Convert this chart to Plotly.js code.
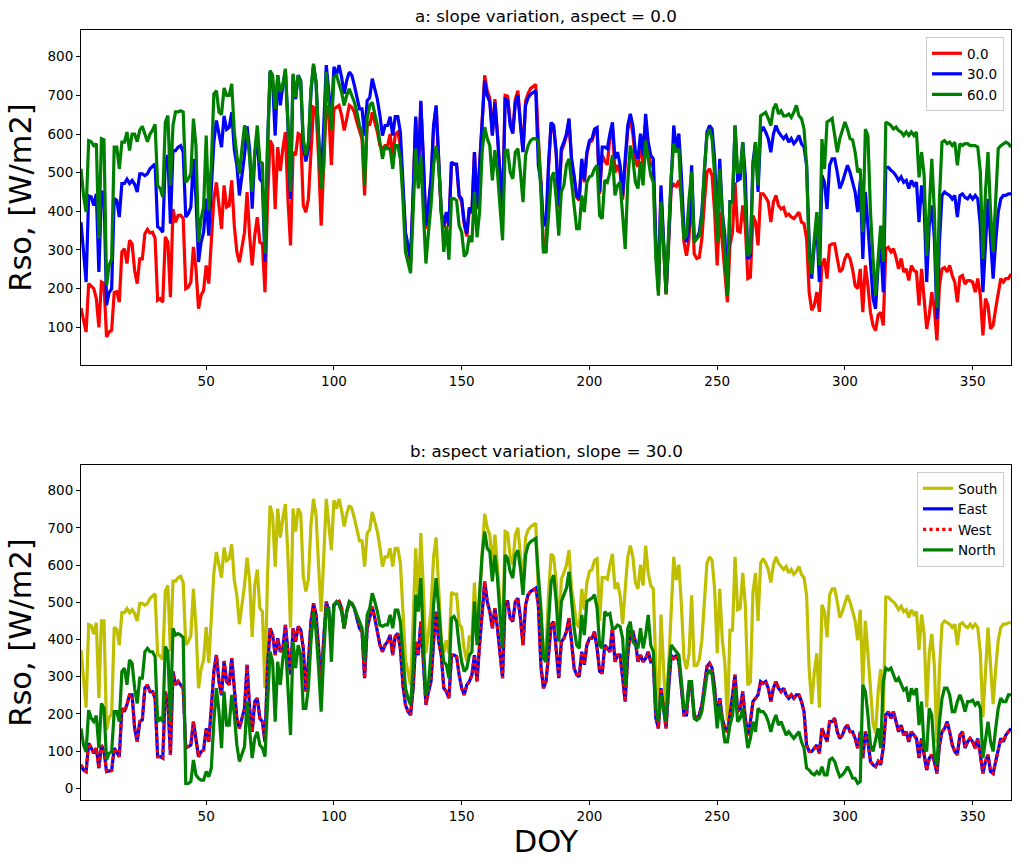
<!DOCTYPE html>
<html><head><meta charset="utf-8">
<script src="https://cdn.plot.ly/plotly-3.0.1.min.js"></script>
<style>html,body{margin:0;padding:0;background:#fff}</style>
</head><body><div id="chart" style="width:1020px;height:868px"></div>
<script>
// Day of year 1..365 (x axis index)
const doy = Array.from({length: 365}, (_, i) => i + 1);

// a: slope variation, aspect = 0.0
const slope0 = [
150,122,88,213,205,200,174,100,217,213, 75,88,92,190,192,165,295,303,265,325,
316,247,213,277,277,342,353,344,346,330, 170,174,165,334,320,178,406,372,389,390,
381,200,204,217,308,251,148,183,196,260, 213,330,432,475,415,355,467,411,415,480,
363,295,268,312,346,450,337,260,337,385, 320,316,191,424,583,570,406,566,505,562,
605,432,312,553,545,601,597,415,398,432, 553,669,665,536,363,527,674,650,520,665,
669,674,648,609,639,674,669,656,630,605, 587,441,630,622,656,630,605,570,562,570,
570,600,536,600,605,570,470,340,305,268, 440,640,490,680,530,355,410,480,615,668,
530,392,357,395,360,527,522,520,438,425, 365,335,405,395,553,405,515,650,752,712,
692,600,690,600,500,395,700,698,630,605, 690,712,630,555,685,705,718,724,728,588,
480,300,295,515,625,615,548,410,555,572, 595,635,530,488,436,428,530,475,548,578,
582,605,610,445,545,530,520,590,615,500, 520,500,430,520,610,640,600,530,515,580,
520,630,555,520,515,305,195,450,335,185, 315,460,470,465,480,440,320,285,330,470,
290,278,281,329,424,501,510,493,398,260, 398,320,243,165,312,346,475,349,346,415,
363,226,230,389,372,312,445,445,436,424, 372,424,441,415,406,410,389,393,385,381,
389,398,372,368,329,191,144,157,191,140, 260,278,226,312,316,316,278,243,251,278,
290,278,250,208,200,251,139,260,208,139, 105,92,132,139,105,303,307,295,303,281,
251,278,243,251,221,260,247,243,157,251, 174,96,132,191,148,66,208,251,255,243,
260,234,217,165,230,234,212,221,221,217, 191,226,182,79,174,157,96,105,148,191,
226,217,226,226,238];

const slope30 = [
372,293,217,440,437,415,445,243,450,450, 157,190,200,433,428,385,472,472,483,472,
480,470,450,497,497,492,497,510,518,523, 360,355,346,530,545,368,557,557,566,570,
553,385,394,411,536,433,269,320,346,433, 337,475,579,635,595,566,647,612,617,656,
560,519,441,492,545,620,560,407,545,588, 484,475,269,570,760,734,596,752,674,726,
764,622,432,752,690,752,738,570,529,562, 708,778,734,596,475,620,778,708,640,774,
752,778,747,704,738,760,752,726,690,665, 665,596,686,694,743,717,690,648,596,622,
622,645,596,645,645,605,492,346,312,277, 450,645,492,686,536,363,415,484,622,674,
536,398,363,398,363,527,522,522,441,432, 372,342,410,398,553,410,519,647,738,700,
682,596,682,596,501,398,690,686,622,601, 682,700,622,553,674,694,703,708,712,519,
475,363,370,522,630,622,553,415,562,579, 600,640,536,492,441,432,536,480,553,583,
588,613,617,450,566,566,562,600,630,536, 553,519,441,536,622,652,622,553,536,601,
545,652,579,545,536,320,205,467,346,190, 329,497,622,560,601,492,350,320,363,519,
330,330,346,398,519,605,622,613,536,363, 536,398,337,182,425,425,622,480,484,579,
493,277,285,527,579,450,605,618,605,588, 553,600,622,605,596,588,596,579,588,575,
583,596,575,566,519,320,226,312,363,217, 493,475,406,519,536,536,501,459,475,501,
519,501,475,450,398,480,277,450,363,251, 174,148,260,320,191,514,514,506,501,492,
480,489,475,480,459,480,467,475,372,467, 415,217,363,415,330,122,320,441,450,445,
441,432,441,385,441,445,436,432,441,432, 441,432,363,191,329,432,329,226,320,398,
432,441,441,445,445];

const slope60 = [
510,441,398,583,580,570,575,330,588,585, 208,260,277,566,566,510,579,579,605,557,
600,600,580,610,620,600,580,600,610,625, 467,459,437,630,648,467,622,657,657,660,
657,475,484,497,640,570,320,381,411,596, 402,519,704,712,657,650,719,700,700,730,
605,545,497,562,622,600,540,450,553,622, 529,524,290,562,764,752,665,752,708,726,
769,630,450,756,694,752,734,587,545,579, 717,782,734,587,459,519,760,682,610,747,
752,730,708,674,700,717,700,682,656,622, 605,467,639,674,682,656,622,579,536,570,
562,562,510,570,570,536,433,295,269,240, 398,562,459,545,398,265,346,415,519,570,
519,398,295,363,275,433,433,428,363,346, 283,292,337,320,450,333,398,553,618,588,
570,480,558,501,398,325,558,558,501,484, 553,562,501,424,545,570,583,588,588,579,
450,295,295,381,484,501,433,337,450,467, 520,536,475,398,355,355,441,398,475,489,
493,510,519,389,381,480,475,500,545,441, 467,475,398,303,475,570,536,475,459,529,
467,583,536,493,475,277,182,424,312,186, 346,493,575,553,562,424,329,337,433,501,
320,329,337,381,510,596,613,588,493,320, 510,398,295,182,424,424,622,501,501,579,
424,285,295,510,579,467,647,652,656,640, 622,665,678,652,660,647,647,652,643,656,
674,647,640,613,519,285,238,329,398,260, 587,510,631,635,640,596,553,588,613,631,
613,588,585,553,501,510,346,613,596,398, 277,182,277,363,269,631,627,622,613,618,
609,605,596,605,596,605,596,605,488,553, 493,285,406,536,400,149,433,579,583,575,
579,570,579,519,575,570,575,575,570,570, 570,566,502,277,450,553,398,295,415,562,
570,575,579,575,566];

// b: aspect variation, slope = 30.0
// South (aspect 0, slope 30) is the same curve as "30.0" above
const south = slope30;

const east = [
63,49,45,121,108,94,108,54,116,100, 45,47,48,108,98,85,215,206,225,251,
251,161,125,179,184,269,278,260,260,242, 85,85,81,260,233,90,314,278,287,278,
269,108,112,116,179,125,85,98,103,161, 125,215,314,358,287,250,342,287,278,350,
260,188,161,188,215,332,215,152,233,242, 188,179,125,323,430,412,358,403,367,376,
439,367,305,430,394,435,426,376,260,340, 448,497,466,376,278,403,502,475,394,493,
497,502,484,430,475,497,497,484,457,430, 421,296,430,457,488,457,421,385,367,385,
394,412,358,408,417,376,278,224,206,197, 269,394,358,448,340,224,260,287,394,475,
394,358,269,260,242,358,358,354,305,269, 251,278,287,305,358,287,385,475,556,502,
475,430,484,430,358,296,502,502,457,448, 502,511,457,385,493,520,529,533,538,493,
330,269,287,358,439,448,376,296,394,403, 421,457,394,323,305,300,367,332,385,403,
403,421,376,314,309,385,376,367,430,340, 358,358,296,233,358,421,421,394,340,358,
340,349,367,340,340,188,161,269,215,161, 269,358,349,358,340,278,197,197,278,269,
197,188,197,224,278,327,336,323,269,188, 242,188,161,152,197,251,305,206,215,260,
188,143,179,233,242,251,287,282,287,269, 233,269,287,269,260,269,251,242,251,242,
251,251,233,206,116,99,99,108,116,94, 161,143,125,179,179,188,152,134,143,161,
170,152,152,134,108,152,81,152,125,72, 63,58,72,63,108,197,206,188,206,179,
152,170,143,152,125,152,143,134,81,134, 90,49,81,90,72,40,116,152,161,179,
152,116,99,90,143,152,108,125,134,125, 108,134,90,40,72,90,45,40,72,108,
134,125,143,152,161];

// West lies exactly on East in the picture
const west = east;

const north = [
161,116,98,210,188,179,195,108,228,215, 76,94,98,206,206,179,314,323,278,345,
336,269,228,296,296,367,376,367,367,354, 179,188,179,381,367,179,430,412,416,412,
405,13,13,18,76,36,27,22,22,45, 31,54,179,269,206,108,260,170,170,251,
200,116,72,90,112,233,152,81,134,152, 116,108,85,233,367,340,179,340,278,349,
394,269,143,394,323,385,358,215,215,269, 394,475,421,323,206,358,484,484,340,493,
502,493,475,430,475,502,497,484,466,448, 430,340,466,484,524,502,475,439,435,439,
439,466,430,479,479,448,349,269,242,224, 323,520,475,565,394,251,278,367,493,565,
484,394,340,332,296,457,462,448,385,340, 314,323,358,367,502,385,520,627,690,645,
636,556,627,565,466,376,627,618,582,565, 627,640,591,520,627,654,663,667,672,573,
484,349,340,448,556,573,502,394,502,520, 538,582,511,430,385,376,466,412,502,506,
511,520,484,385,376,475,466,470,430,430, 439,435,403,278,430,448,394,385,376,430,
376,412,466,385,367,215,179,251,215,179, 314,385,376,367,358,287,215,215,287,287,
188,183,188,206,251,305,318,305,242,161, 224,179,125,125,170,197,269,179,188,215,
161,108,134,179,152,215,206,206,197,179, 152,179,197,170,179,161,143,152,143,134,
143,152,125,108,54,49,40,36,45,36, 58,36,36,76,81,72,49,31,36,45,
58,45,27,27,13,18,278,260,197,116, 99,134,161,108,287,323,318,323,305,287,
296,278,264,269,233,269,251,269,170,233, 108,99,215,197,90,63,179,242,269,269,
251,206,206,233,251,233,206,233,233,237, 224,233,215,81,125,179,125,99,161,215,
242,233,233,251,251];

const topNames = ['0.0', '30.0', '60.0'];
const bottomNames = ['South', 'East', 'West', 'North'];
const yTicksTop = [100,200,300,400,500,600,700,800];
const yTicksBottom = [0,100,200,300,400,500,600,700,800];
const xTicks = [50,100,150,200,250,300,350];

const W = 1020, H = 868;
const L = 81, R = 1011;
const font = 'DejaVu Sans, Liberation Sans, sans-serif';
const LW = 3.2;

function tr(y, name, color, xa, ya, leg, dash) {
  return {x: doy, y: y, name: name, type: 'scatter', mode: 'lines',
    line: {color: color, width: LW, dash: dash || 'solid'},
    xaxis: xa, yaxis: ya, legend: leg};
}

const data = [
  tr(slope0, topNames[0], '#ff0000', 'x', 'y', 'legend'),
  tr(slope30, topNames[1], '#0000ff', 'x', 'y', 'legend'),
  tr(slope60, topNames[2], '#008000', 'x', 'y', 'legend'),
  tr(south, bottomNames[0], '#bfbf00', 'x2', 'y2', 'legend2'),
  tr(east, bottomNames[1], '#0000ff', 'x2', 'y2', 'legend2'),
  tr(west, bottomNames[2], '#ff0000', 'x2', 'y2', 'legend2', 'dot'),
  tr(north, bottomNames[3], '#008000', 'x2', 'y2', 'legend2')
];

function xax(anchor, withTitle) {
  const a = {domain: [L / W, R / W], range: [1, 365], anchor: anchor,
    tickmode: 'array', tickvals: xTicks, ticks: 'outside', ticklen: 4, tickwidth: 1,
    tickcolor: '#000', showline: true, mirror: true, linecolor: '#000', linewidth: 1,
    showgrid: false, zeroline: false, tickfont: {family: font, size: 13.5, color: '#000'}};
  if (withTitle) a.title = {text: 'DOY', font: {family: font, size: 30.5, color: '#000'}, standoff: 7};
  return a;
}
function yax(anchor, dom, rng, tv) {
  return {domain: dom, range: rng, anchor: anchor,
    tickmode: 'array', tickvals: tv, ticks: 'outside', ticklen: 4, tickwidth: 1,
    tickcolor: '#000', showline: true, mirror: true, linecolor: '#000', linewidth: 1,
    showgrid: false, zeroline: false, tickfont: {family: font, size: 13.5, color: '#000'},
    title: {text: 'Rso, [W/m2]', font: {family: font, size: 30.5, color: '#000'}, standoff: 6}};
}

const legendBase = {xanchor: 'right', yanchor: 'top', bgcolor: 'rgba(255,255,255,0.85)',
  bordercolor: '#cccccc', borderwidth: 1, font: {family: font, size: 13.5, color: '#000'},
  tracegroupgap: 0};

const layout = {
  width: W, height: H, margin: {l: 0, r: 0, t: 0, b: 0},
  paper_bgcolor: '#fff', plot_bgcolor: '#fff', showlegend: true,
  xaxis: xax('y', false),
  yaxis: yax('x', [(H - 365) / H, (H - 30) / H], [2.5, 869], yTicksTop),
  xaxis2: xax('y2', true),
  yaxis2: yax('x2', [(H - 800) / H, (H - 465) / H], [-31.5, 869], yTicksBottom),
  legend: Object.assign({x: 1004 / W, y: (H - 37) / H}, legendBase),
  legend2: Object.assign({x: 1004 / W, y: (H - 472) / H}, legendBase),
  annotations: [
    {text: 'a: slope variation, aspect = 0.0', xref: 'paper', yref: 'paper',
     x: (L + R) / 2 / W, y: (H - 30) / H, xanchor: 'center', yanchor: 'bottom', yshift: 2,
     showarrow: false, font: {family: font, size: 16.7, color: '#000'}},
    {text: 'b: aspect variation, slope = 30.0', xref: 'paper', yref: 'paper',
     x: (L + R) / 2 / W, y: (H - 465) / H, xanchor: 'center', yanchor: 'bottom', yshift: 2,
     showarrow: false, font: {family: font, size: 16.7, color: '#000'}}
  ]
};

Plotly.newPlot('chart', data, layout, {displayModeBar: false, staticPlot: true});
</script>
</body></html>
